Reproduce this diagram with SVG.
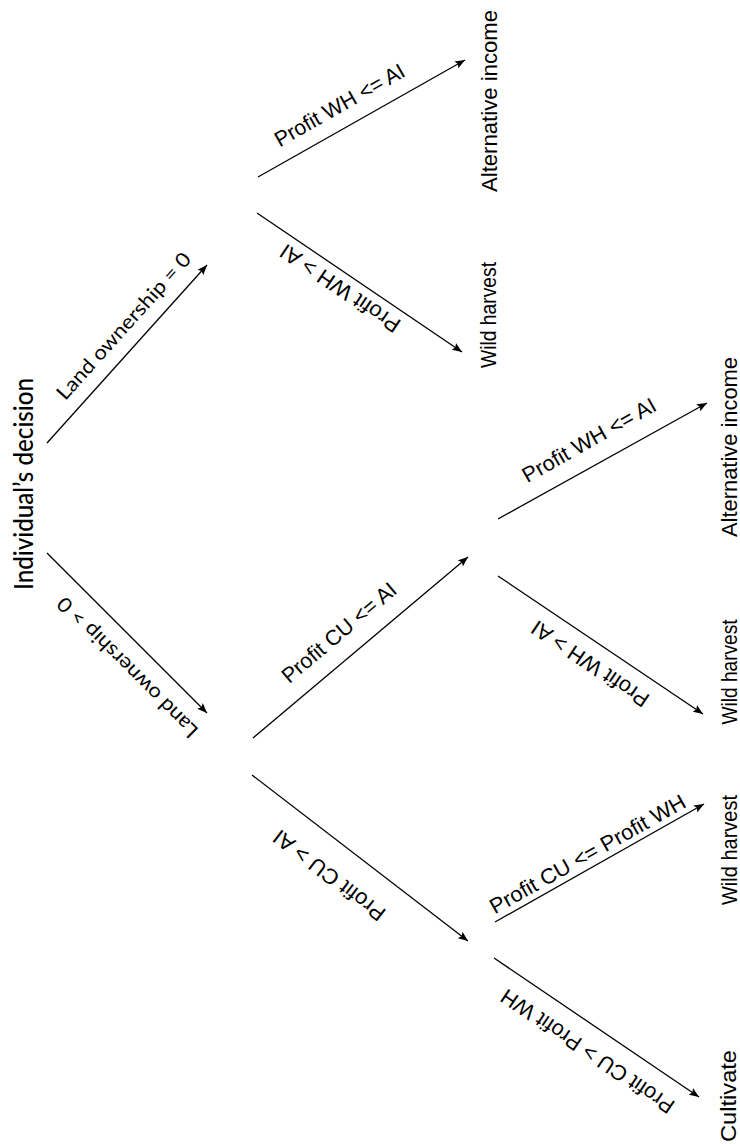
<svg xmlns="http://www.w3.org/2000/svg" width="740" height="1144" viewBox="0 0 740 1144">
<style>
.bg{fill:#ffffff}
.edge{stroke:#000;stroke-width:1.3;fill:none;marker-end:url(#ah)}
.root{font-family:Lato,"Open Sans","Liberation Sans",sans-serif;font-size:26px;font-weight:500;fill:#000}
.cal{font-family:Lato,"Open Sans","Liberation Sans",sans-serif;font-size:20px;fill:#000}
.lbl{font-family:"Liberation Sans",Arial,sans-serif;font-size:21.5px;fill:#000}
.leaf{font-family:"Liberation Sans",Arial,sans-serif;font-size:22px;fill:#000}
</style>
<defs>
<marker id="ah" markerUnits="userSpaceOnUse" markerWidth="11" markerHeight="8" refX="10" refY="4" orient="auto">
<path d="M0,0 L10,4 L0,8 L2,4 z" fill="#000"/>
</marker>
</defs>
<rect class="bg" x="0" y="0" width="740" height="1144"/>
<g id="connectors">
<line class="edge" x1="47" y1="443" x2="207" y2="265"/>
<line class="edge" x1="47" y1="553" x2="207" y2="713"/>
<line class="edge" x1="258" y1="177" x2="465" y2="60"/>
<line class="edge" x1="257" y1="213" x2="462" y2="352"/>
<line class="edge" x1="253" y1="738" x2="468" y2="557"/>
<line class="edge" x1="498" y1="519" x2="707" y2="403"/>
<line class="edge" x1="498" y1="576" x2="703" y2="714"/>
<line class="edge" x1="252" y1="775" x2="468" y2="941"/>
<line class="edge" x1="495" y1="922" x2="704" y2="804"/>
<line class="edge" x1="494" y1="958" x2="699" y2="1097"/>
</g>
<g id="edge-labels">
<text class="cal" text-anchor="middle" textLength="190" lengthAdjust="spacingAndGlyphs" transform="translate(128.7,330.7) rotate(-48)">Land ownership = 0</text>
<text class="cal" text-anchor="middle" textLength="190" lengthAdjust="spacingAndGlyphs" transform="translate(132.4,662.6) rotate(225)">Land ownership &gt; 0</text>
<text class="lbl" text-anchor="middle" textLength="146" lengthAdjust="spacingAndGlyphs" transform="translate(343.2,111.5) rotate(-29.5)">Profit WH &lt;= AI</text>
<text class="lbl" text-anchor="middle" textLength="140" lengthAdjust="spacingAndGlyphs" transform="translate(344.2,282.3) rotate(214.1)">Profit WH &gt; AI</text>
<text class="lbl" text-anchor="middle" textLength="143" lengthAdjust="spacingAndGlyphs" transform="translate(343.8,638.2) rotate(-40.2)">Profit CU &lt;= AI</text>
<text class="lbl" text-anchor="middle" textLength="150" lengthAdjust="spacingAndGlyphs" transform="translate(592.7,446.5) rotate(-29.4)">Profit WH &lt;= AI</text>
<text class="lbl" text-anchor="middle" textLength="137" lengthAdjust="spacingAndGlyphs" transform="translate(594.2,657.8) rotate(214)">Profit WH &gt; AI</text>
<text class="lbl" text-anchor="middle" textLength="135" lengthAdjust="spacingAndGlyphs" transform="translate(333.6,869.6) rotate(217.5)">Profit CU &gt; AI</text>
<text class="lbl" text-anchor="middle" textLength="221" lengthAdjust="spacingAndGlyphs" transform="translate(591.2,860.5) rotate(-29.3)">Profit CU &lt;= Profit WH</text>
<text class="lbl" text-anchor="middle" textLength="204" lengthAdjust="spacingAndGlyphs" transform="translate(591.7,1045.3) rotate(214.1)">Profit CU &gt; Profit WH</text>
</g>
<g id="root">
<text class="root" text-anchor="middle" textLength="212" lengthAdjust="spacingAndGlyphs" transform="translate(33,484) rotate(-90)">Individual’s decision</text>
</g>
<g id="leaf-ai-1">
<text class="leaf" text-anchor="middle" textLength="182" lengthAdjust="spacingAndGlyphs" transform="translate(497,101) rotate(-90)">Alternative income</text>
</g>
<g id="leaf-wh-1">
<text class="leaf" text-anchor="middle" textLength="106" lengthAdjust="spacingAndGlyphs" transform="translate(496,315) rotate(-90)">Wild harvest</text>
</g>
<g id="leaf-ai-2">
<text class="leaf" text-anchor="middle" textLength="180" lengthAdjust="spacingAndGlyphs" transform="translate(737,447) rotate(-90)">Alternative income</text>
</g>
<g id="leaf-wh-2">
<text class="leaf" text-anchor="middle" textLength="105" lengthAdjust="spacingAndGlyphs" transform="translate(737,672) rotate(-90)">Wild harvest</text>
</g>
<g id="leaf-wh-3">
<text class="leaf" text-anchor="middle" textLength="110" lengthAdjust="spacingAndGlyphs" transform="translate(737,850) rotate(-90)">Wild harvest</text>
</g>
<g id="leaf-cu">
<text class="leaf" text-anchor="middle" textLength="92" lengthAdjust="spacingAndGlyphs" transform="translate(736,1096) rotate(-90)">Cultivate</text>
</g>
</svg>
